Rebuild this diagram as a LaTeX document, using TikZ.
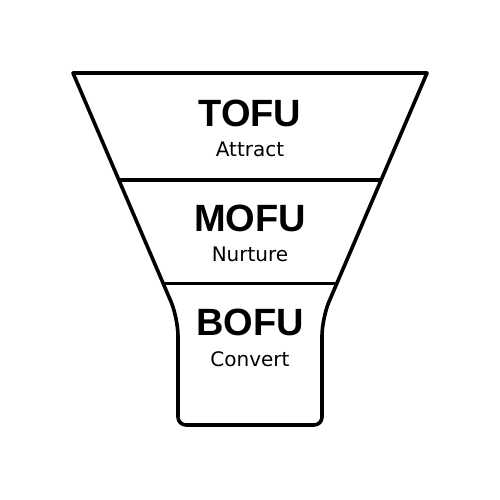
\documentclass[tikz,border=0pt]{standalone}
\usepackage{fontspec}
\setmainfont{DejaVu Sans}
\newfontfamily\headfont{Liberation Sans}
\begin{document}
\begin{tikzpicture}[x=1pt,y=-1pt,
  funnel/.style={line width=3.6pt, line join=round, draw=black},
  divider/.style={line width=3.2pt, draw=black},
  stagetitle/.style={anchor=base, inner sep=0pt, font=\headfont\bfseries\fontsize{38}{38}\selectfont, text=black},
  stagesub/.style={anchor=base, inner sep=0pt, font=\fontsize{20}{20}\selectfont, text=black}]
\useasboundingbox (0,0) rectangle (500,500);
\coordinate (tl) at (73,73);
\coordinate (tr) at (427,73);
\coordinate (rb) at (322,318);
\coordinate (rbot) at (322,425);
\coordinate (lbot) at (178,425);
\coordinate (lb) at (178,318);
\draw[funnel] (tl) -- (tr) [rounded corners=18pt] -- (rb) [rounded corners=8pt] -- (rbot) -- (lbot) [rounded corners=18pt] -- (lb) [sharp corners] -- (tl) -- cycle;
\coordinate (d1l) at (119.0,180);
\coordinate (d1r) at (381.0,180);
\coordinate (d2l) at (163.1,283.5);
\coordinate (d2r) at (336.9,283.5);
\draw[divider] (d1l) -- (d1r);
\draw[divider] (d2l) -- (d2r);
\node[stagetitle] (tofu) at (250,126) {TOFU};
\node[stagesub] (attract) at (250,156) {Attract};
\node[stagetitle] (mofu) at (250,231) {MOFU};
\node[stagesub] (nurture) at (250,261) {Nurture};
\node[stagetitle] (bofu) at (250,335) {BOFU};
\node[stagesub] (convert) at (250,366) {Convert};
\end{tikzpicture}
\end{document}
